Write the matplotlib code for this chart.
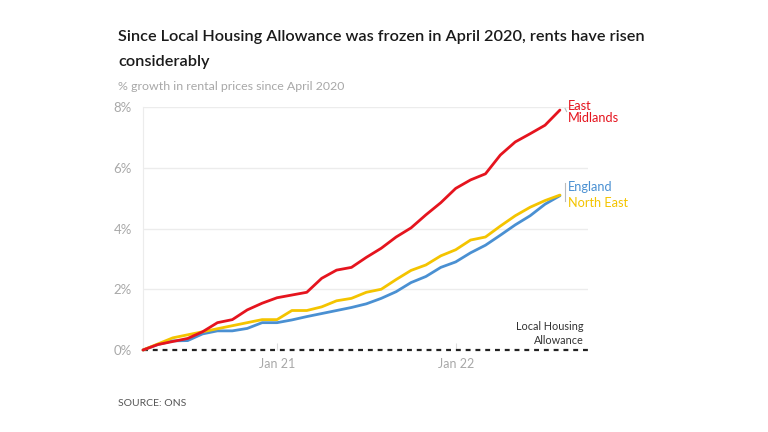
import matplotlib
matplotlib.use("Agg")
import matplotlib.pyplot as plt

# monthly % growth in rents since April 2020 (Apr 2020 .. Aug 2022)
months = ["Apr 20", "May 20", "Jun 20", "Jul 20", "Aug 20", "Sep 20", "Oct 20", "Nov 20",
          "Dec 20", "Jan 21", "Feb 21", "Mar 21", "Apr 21", "May 21", "Jun 21", "Jul 21",
          "Aug 21", "Sep 21", "Oct 21", "Nov 21", "Dec 21", "Jan 22", "Feb 22", "Mar 22",
          "Apr 22", "May 22", "Jun 22", "Jul 22", "Aug 22"]
east_midlands = [0, 0.18, 0.28, 0.38, 0.6, 0.9, 1.0, 1.32, 1.54, 1.72, 1.81, 1.9, 2.36, 2.63,
                 2.72, 3.05, 3.35, 3.72, 4.02, 4.45, 4.85, 5.32, 5.6, 5.8, 6.42, 6.85, 7.12,
                 7.4, 7.9]
north_east = [0, 0.2, 0.4, 0.5, 0.6, 0.7, 0.8, 0.9, 1.0, 1.0, 1.3, 1.3, 1.42, 1.62, 1.7, 1.9,
              2.0, 2.32, 2.62, 2.8, 3.1, 3.3, 3.62, 3.72, 4.08, 4.42, 4.7, 4.92, 5.1]
england = [0, 0.18, 0.3, 0.31, 0.53, 0.63, 0.63, 0.71, 0.9, 0.9, 0.99, 1.1, 1.2, 1.3, 1.4,
           1.52, 1.7, 1.92, 2.22, 2.42, 2.72, 2.9, 3.2, 3.45, 3.78, 4.12, 4.42, 4.8, 5.08]
tick_months = ["Jan 21", "Jan 22"]
yticks = [0, 2, 4, 6, 8]

RED = "#e5141e"
BLUE = "#4a90d2"
YELLOW = "#f4c400"
GREY = "#a8a8a8"

plt.rcParams["font.family"] = ["Lato", "DejaVu Sans"]

fig = plt.figure(figsize=(7.68, 4.32), dpi=100)
ax = fig.add_axes([143 / 768, 1 - 350 / 432, 445 / 768, 243 / 432])

x = list(range(len(months)))
for vals, col in [(england, BLUE), (north_east, YELLOW), (east_midlands, RED)]:
    ax.plot(x, vals, color=col, lw=2, solid_joinstyle="round", solid_capstyle="round",
            clip_on=False, zorder=3)

# Local Housing Allowance, frozen at 0%
ax.plot([0, 445 / 14.89], [0, 0], color="#222222", lw=1.6, ls=(0, (2.2, 2.2)),
        clip_on=False, zorder=2)

ax.set_xlim(0, 445 / 14.89)
ax.set_ylim(0, 8)
ax.set_yticks(yticks)
ax.set_yticklabels([f"{v}%" for v in yticks])
ax.set_xticks([months.index(m) for m in tick_months])
ax.set_xticklabels(tick_months)
ax.grid(axis="y", color="#ececec", lw=1)
ax.set_axisbelow(True)
for s in ["top", "right", "bottom"]:
    ax.spines[s].set_visible(False)
ax.spines["left"].set_color("#ececec")
ax.tick_params(axis="y", length=0, pad=8, labelsize=9.5, labelcolor=GREY)
ax.tick_params(axis="x", length=5, direction="in", color="#dddddd", pad=6,
               labelsize=9, labelcolor=GREY)

# line labels
last = len(months) - 1
ax.annotate("East\nMidlands", (last, east_midlands[-1]), xytext=(6, 7),
            textcoords="offset points", color=RED, fontsize=9.2, va="top",
            linespacing=0.95, annotation_clip=False)
ax.plot([last + 0.35, last + 0.45], [7.95, 7.85], color="#bbbbbb", lw=0.8, clip_on=False)
ax.annotate("England", (last, england[-1]), xytext=(6, 6), textcoords="offset points",
            color=BLUE, fontsize=9.2, va="center", annotation_clip=False)
ax.annotate("North East", (last, north_east[-1]), xytext=(6, -6), textcoords="offset points",
            color=YELLOW, fontsize=9.2, va="center", annotation_clip=False)
ax.plot([last + 0.35, last + 0.35], [4.9, 5.5], color="#bbbbbb", lw=0.8, clip_on=False)
ax.text(0.99, 0.53, "Local Housing\nAllowance", transform=ax.get_yaxis_transform(),
        ha="right", va="center", color="#333333", fontsize=7.8, linespacing=1.35)

fig.text(118 / 768, 1 - 37 / 432, "Since Local Housing Allowance was frozen in April 2020, rents have risen",
         fontsize=11.7, fontweight="semibold", color="#1a1a1a", va="center")
fig.text(118 / 768, 1 - 62 / 432, "considerably",
         fontsize=11.7, fontweight="semibold", color="#1a1a1a", va="center")
fig.text(118 / 768, 1 - 87 / 432, "% growth in rental prices since April 2020",
         fontsize=8.9, color=GREY, va="center")
fig.text(118 / 768, 1 - 404 / 432, "SOURCE: ONS", fontsize=7.5, color="#555555", va="center")

fig.savefig("out.png", dpi=100)
